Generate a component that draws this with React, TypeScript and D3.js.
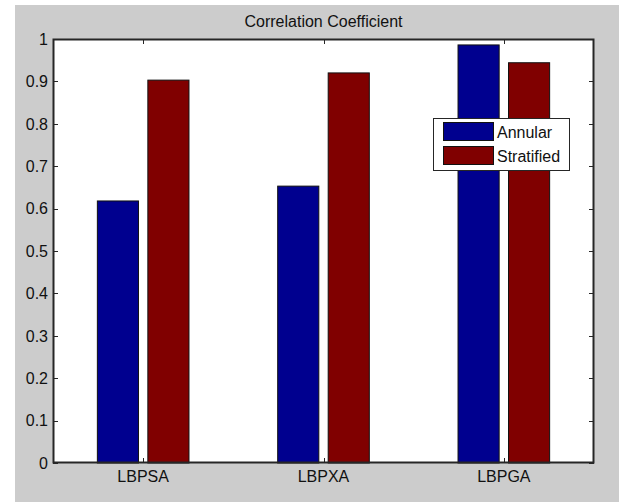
import React, { useEffect, useRef } from 'react';
import * as d3 from 'd3';

const categories = ['LBPSA', 'LBPXA', 'LBPGA'];
const seriesNames = ['Annular', 'Stratified'];
const annular = [0.618, 0.653, 0.986];
const stratified = [0.903, 0.920, 0.944];
const yTicks = [0, 0.1, 0.2, 0.3, 0.4, 0.5, 0.6, 0.7, 0.8, 0.9, 1];
const colors = ['#00008F', '#800000'];

function App() {
    const ref = useRef<SVGSVGElement>(null);

    useEffect(() => {
        const svg = d3.select(ref.current);
        svg.selectAll('*').remove();

        const width = 619, height = 502;
        const left = 53, right = 594, top = 39, bottom = 463;
        const font = 'Arial, "Liberation Sans", sans-serif';

        // white strip then the grey figure background
        svg.append('rect').attr('width', width).attr('height', height).attr('fill', 'white');
        svg.append('rect').attr('x', 15).attr('y', 5).attr('width', width - 15).attr('height', height - 5).attr('fill', '#CCCCCC');

        const x = d3.scaleLinear().domain([0.5, 3.5]).range([left, right]);
        const y = d3.scaleLinear().domain([0, 1]).range([bottom, top]);

        svg.append('rect')
            .attr('x', left).attr('y', top)
            .attr('width', right - left).attr('height', bottom - top)
            .attr('fill', 'white');

        const series = [annular, stratified];
        const offsets = [-0.14, 0.14];
        const barW = 0.228;

        series.forEach((vals, s) => {
            svg.append('g').selectAll('rect')
                .data(vals)
                .enter().append('rect')
                .attr('x', (d, i) => x(i + 1 + offsets[s] - barW / 2))
                .attr('y', d => y(d))
                .attr('width', x(barW) - x(0))
                .attr('height', d => y(0) - y(d))
                .attr('fill', colors[s])
                .attr('stroke', '#111')
                .attr('stroke-width', 1);
        });

        const axisColor = '#262626';
        const g = svg.append('g').attr('stroke', axisColor).attr('stroke-width', 1).attr('fill', 'none');
        g.append('rect')
            .attr('x', left + 0.5).attr('y', top + 0.5)
            .attr('width', right - left - 1).attr('height', bottom - top - 1)
            .attr('stroke-width', 2);

        // y ticks, both sides
        yTicks.forEach(t => {
            const yy = Math.round(y(t)) + 0.5;
            g.append('line').attr('x1', left).attr('x2', left + 5).attr('y1', yy).attr('y2', yy);
            g.append('line').attr('x1', right - 5).attr('x2', right).attr('y1', yy).attr('y2', yy);
        });
        // x ticks, both sides
        categories.forEach((c, i) => {
            const xx = Math.round(x(i + 1)) + 0.5;
            g.append('line').attr('x1', xx).attr('x2', xx).attr('y1', bottom).attr('y2', bottom - 5);
            g.append('line').attr('x1', xx).attr('x2', xx).attr('y1', top).attr('y2', top + 5);
        });

        svg.append('g').selectAll('text')
            .data(yTicks)
            .enter().append('text')
            .attr('x', left - 5)
            .attr('y', d => y(d) + 5.8)
            .attr('text-anchor', 'end')
            .attr('font-family', font)
            .attr('font-size', 16)
            .attr('fill', '#111')
            .text(d => d3.format('~g')(d));

        svg.append('g').selectAll('text')
            .data(categories)
            .enter().append('text')
            .attr('x', (d, i) => x(i + 1))
            .attr('y', bottom + 19)
            .attr('text-anchor', 'middle')
            .attr('font-family', font)
            .attr('font-size', 16)
            .attr('fill', '#111')
            .text(d => d);

        svg.append('text')
            .attr('x', (left + right) / 2)
            .attr('y', 27)
            .attr('text-anchor', 'middle')
            .attr('font-family', font)
            .attr('font-size', 16)
            .attr('fill', '#111')
            .text('Correlation Coefficient');

        // legend
        const lg = svg.append('g').attr('transform', 'translate(433,118)');
        lg.append('rect')
            .attr('x', 0.5).attr('y', 0.5)
            .attr('width', 136).attr('height', 52)
            .attr('fill', 'white').attr('stroke', axisColor).attr('stroke-width', 1);
        seriesNames.forEach((n, i) => {
            lg.append('rect')
                .attr('x', 10.5).attr('y', 4.5 + i * 24)
                .attr('width', 50).attr('height', 18)
                .attr('fill', colors[i]).attr('stroke', '#111');
            lg.append('text')
                .attr('x', 64).attr('y', 20 + i * 24)
                .attr('font-family', font)
                .attr('font-size', 16)
                .attr('fill', '#111')
                .text(n);
        });
    }, []);

    return (
        <svg ref={ref} width="619" height="502" style={{ position: 'absolute', left: 0, top: 0 }}></svg>
    );
}

export default App;
